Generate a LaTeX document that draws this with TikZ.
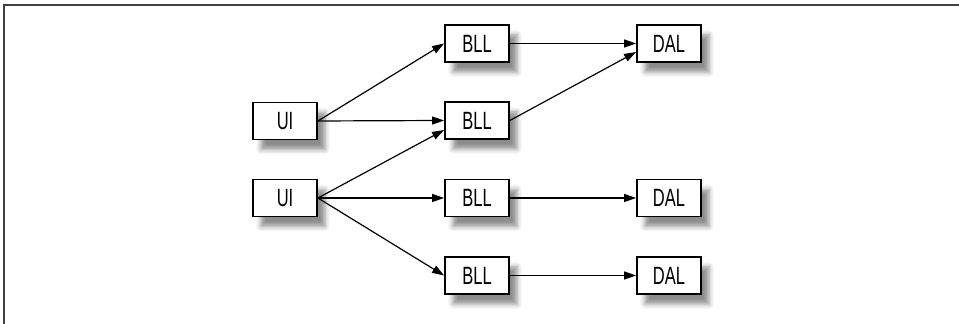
\documentclass[tikz,border=0pt]{standalone}
\usepackage{fontspec}
\setmainfont{Liberation Sans}[FakeStretch=0.66]
\usetikzlibrary{arrows.meta,shadows.blur}

\tikzset{
  layer/.style={draw, line width=0.9pt, fill=white, minimum width=32pt, minimum height=18.5pt,
    inner sep=0pt, font=\fontsize{12.5}{14}\selectfont,
    blur shadow={shadow xshift=4pt, shadow yshift=-5pt, shadow blur radius=2.5pt, shadow opacity=45}},
  link/.style={line width=0.6pt, -{Triangle[length=6pt,width=4pt]}}
}

\begin{document}
\begin{tikzpicture}[x=0.5pt, y=-0.5pt]
    \useasboundingbox (0,0) rectangle (959,324);

    % Frame
    \draw[line width=0.8pt, black!75] (4,324) -- (4,5) -- (959,5);

    % UI
    \node[layer] (ui1) at (285,121) {UI};
    \node[layer] (ui2) at (285,198) {UI};

    % BLL
    \node[layer] (bll1) at (477,43.5) {BLL};
    \node[layer] (bll2) at (477,120.5) {BLL};
    \node[layer] (bll3) at (477,198) {BLL};
    \node[layer] (bll4) at (477,275.5) {BLL};

    % DAL
    \node[layer] (dal1) at (669,43.5) {DAL};
    \node[layer] (dal2) at (669,198) {DAL};
    \node[layer] (dal3) at (669,275.5) {DAL};

    % UI to BLL
    \draw[link] (ui1.east) -- (bll1.west);
    \draw[link] (ui1.east) -- (bll2.west);
    \draw[link] (ui2.east) -- ([yshift=-4.75pt]bll2.west);
    \draw[link] (ui2.east) -- (bll3.west);
    \draw[link] (ui2.east) -- (bll4.west);

    % BLL to DAL
    \draw[link] (bll1.east) -- (dal1.west);
    \draw[link] (bll2.east) -- ([yshift=-4.25pt]dal1.west);
    \draw[link] (bll3.east) -- (dal2.west);
    \draw[link] (bll4.east) -- (dal3.west);
\end{tikzpicture}
\end{document}
